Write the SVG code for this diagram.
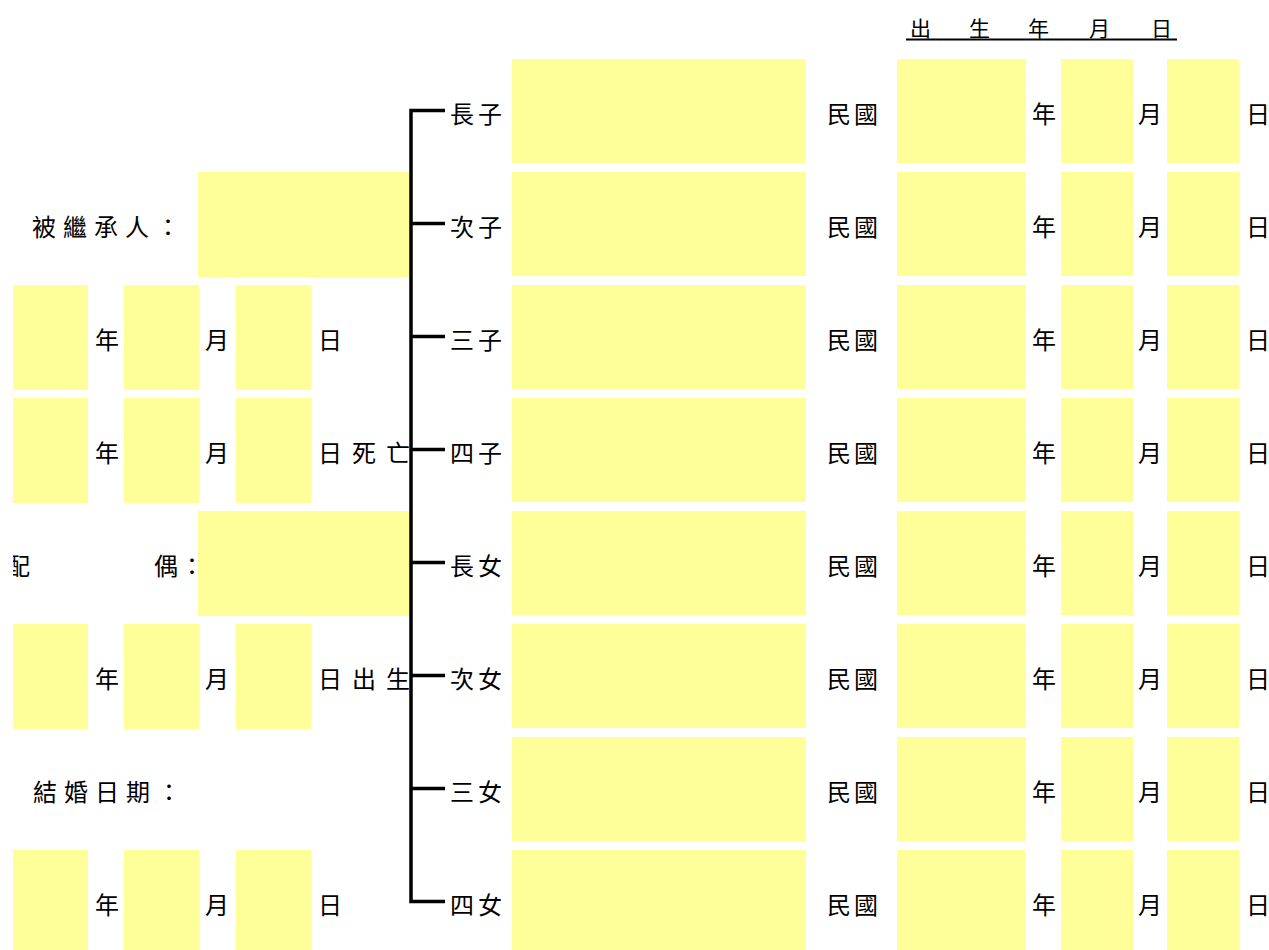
<svg xmlns="http://www.w3.org/2000/svg" width="1269" height="950" viewBox="0 0 1269 950">
  <style>
    .t { font-family: "Noto Sans CJK TC", "Noto Sans CJK SC", sans-serif; font-size: 24px; fill: #000; dominant-baseline: central; }
    .ls4 { letter-spacing: 4px; }
    .ls3 { letter-spacing: 3px; }
    .ls7 { letter-spacing: 7px; }
    .ls10 { letter-spacing: 10px; }
    .h { font-family: "Noto Sans CJK TC", "Noto Sans CJK SC", sans-serif; font-size: 21px; fill: #000; dominant-baseline: central; }
    .box { fill: #FFFF99; }
    .conn { fill: none; stroke: #000; stroke-width: 3.5; stroke-linejoin: miter; stroke-linecap: butt; }
  </style>
  <defs>
    <clipPath id="clipLeft"><rect x="13" y="0" width="1256" height="950"/></clipPath>
    <g id="childRow">
      <rect class="box" x="512" y="0" width="294" height="104"/>
      <text class="t ls3" x="827" y="53">民國</text>
      <rect class="box" x="897" y="0" width="129" height="104"/>
      <text class="t" x="1032" y="53">年</text>
      <rect class="box" x="1061" y="0" width="72" height="104"/>
      <text class="t" x="1138" y="53">月</text>
      <rect class="box" x="1167" y="0" width="72" height="104"/>
      <text class="t" x="1246" y="53">日</text>
    </g>
    <g id="dateBoxes">
      <rect class="box" x="13" y="0" width="75" height="105"/>
      <text class="t" x="95" y="53">年</text>
      <rect class="box" x="124" y="0" width="75" height="105"/>
      <text class="t" x="205" y="53">月</text>
      <rect class="box" x="236" y="0" width="75" height="105"/>
    </g>
  </defs>

  <g id="header">
    <text class="h" x="910" y="27">出</text>
    <text class="h" x="969" y="27">生</text>
    <text class="h" x="1028" y="27">年</text>
    <text class="h" x="1089" y="27">月</text>
    <text class="h" x="1151" y="27">日</text>
    <line x1="906" y1="39.5" x2="1177" y2="39.5" stroke="#000" stroke-width="2"/>
  </g>

  <g id="decedent">
    <text class="t ls7" x="32" y="225">被繼承人：</text>
    <rect class="box" x="198" y="172" width="211" height="105"/>
  </g>
  <g id="decedent-date1">
    <use href="#dateBoxes" transform="translate(0,285)"/>
    <text class="t" x="318" y="338">日</text>
  </g>
  <g id="decedent-death">
    <use href="#dateBoxes" transform="translate(0,398)"/>
    <text class="t ls10" x="318" y="451">日死亡</text>
  </g>
  <g id="spouse">
    <text class="t" x="6" y="564" clip-path="url(#clipLeft)">配</text>
    <text class="t" x="154" y="564">偶</text>
    <text class="t" x="180" y="564">：</text>
    <rect class="box" x="198" y="511" width="211" height="105"/>
  </g>
  <g id="spouse-birth">
    <use href="#dateBoxes" transform="translate(0,624)"/>
    <text class="t ls10" x="318" y="677">日出生</text>
  </g>
  <g id="marriage">
    <text class="t ls7" x="33" y="790">結婚日期：</text>
  </g>
  <g id="marriage-date">
    <use href="#dateBoxes" transform="translate(0,850)"/>
    <text class="t" x="318" y="903">日</text>
  </g>

  <g id="child-1"><use href="#childRow" transform="translate(0,59)"/><text class="t ls4" x="450" y="112">長子</text></g>
  <g id="child-2"><use href="#childRow" transform="translate(0,172)"/><text class="t ls4" x="450" y="225">次子</text></g>
  <g id="child-3"><use href="#childRow" transform="translate(0,285)"/><text class="t ls4" x="450" y="338">三子</text></g>
  <g id="child-4"><use href="#childRow" transform="translate(0,398)"/><text class="t ls4" x="450" y="451">四子</text></g>
  <g id="child-5"><use href="#childRow" transform="translate(0,511)"/><text class="t ls4" x="450" y="564">長女</text></g>
  <g id="child-6"><use href="#childRow" transform="translate(0,624)"/><text class="t ls4" x="450" y="677">次女</text></g>
  <g id="child-7"><use href="#childRow" transform="translate(0,737)"/><text class="t ls4" x="450" y="790">三女</text></g>
  <g id="child-8"><use href="#childRow" transform="translate(0,850)"/><text class="t ls4" x="450" y="903">四女</text></g>

  <g id="connectors">
    <path class="conn" d="M445,110.5 H411 V901.5 H445"/>
    <path class="conn" d="M411,223.5 H445 M411,336.5 H445 M411,449.5 H445 M411,562.5 H445 M411,675.5 H445 M411,788.5 H445"/>
  </g>
</svg>
